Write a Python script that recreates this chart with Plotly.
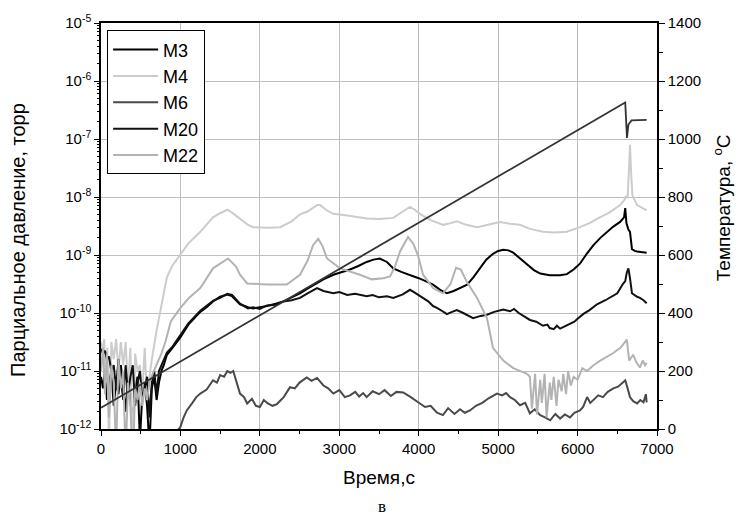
import plotly.graph_objects as go

# ---------------- data ----------------
# time, s ; pressures stored as log10(torr)
t_m3 = [0, 25, 50, 75, 100, 130, 160, 190, 220, 250, 280, 310, 340, 370, 400, 430, 460, 490, 520,
        550, 580, 610, 640, 670, 700, 730, 760, 790, 830, 900, 995, 1100, 1250, 1330, 1410, 1500,
        1590, 1650, 1750, 1850, 1915, 2000, 2090, 2200, 2295, 2400, 2505, 2600, 2700, 2800, 2925,
        3030, 3135, 3240, 3345, 3430, 3510, 3600, 3680, 3780, 3890, 4000, 4100, 4180, 4270, 4355,
        4440, 4520, 4610, 4690, 4770, 4850, 4935, 5000, 5065, 5130, 5190, 5280, 5365, 5450, 5530,
        5650, 5780, 5865, 5950, 6030, 6120, 6200, 6290, 6370, 6450, 6535, 6585, 6600, 6615, 6640,
        6660, 6685, 6720, 6750, 6800, 6870]
lg_m3 = [-11.1, -11.3, -10.95, -11.5, -11.2, -11.0, -11.6, -11.2, -11.4, -10.9, -11.3, -11.7, -11.1,
         -11.5, -11.9, -11.3, -11.1, -12.2, -11.4, -11.2, -11.6, -12.3, -11.3, -11.1, -11.5, -11.2,
         -11.0, -10.9, -10.72, -10.6, -10.43, -10.2, -9.98, -9.9, -9.8, -9.72, -9.68, -9.71, -9.85,
         -9.9, -9.92, -9.9, -9.88, -9.84, -9.8, -9.73, -9.66, -9.58, -9.5, -9.42, -9.34, -9.3, -9.25,
         -9.19, -9.12, -9.08, -9.06, -9.12, -9.23, -9.29, -9.34, -9.4, -9.46, -9.51, -9.6, -9.66,
         -9.62, -9.57, -9.51, -9.38, -9.23, -9.08, -8.98, -8.93, -8.91, -8.92, -8.96, -9.06, -9.17,
         -9.26, -9.32, -9.35, -9.35, -9.33, -9.25, -9.15, -8.97, -8.83, -8.7, -8.6, -8.51, -8.43,
         -8.35, -8.19, -8.45, -8.56, -8.6, -8.9, -8.93, -8.94, -8.95, -8.96]

t_m4 = [0, 20, 40, 60, 80, 100, 130, 160, 190, 220, 250, 280, 310, 340, 370, 400, 430, 460, 490,
        520, 550, 580, 610, 640, 700, 740, 780, 830, 900, 1000, 1100, 1250, 1410, 1500, 1590, 1650,
        1750, 1850, 1915, 2100, 2255, 2400, 2505, 2600, 2720, 2760, 2830, 2925, 3100, 3345, 3500,
        3680, 3800, 3890, 3950, 4015, 4150, 4310, 4400, 4480, 4600, 4735, 4900, 5025, 5150, 5275,
        5400, 5565, 5700, 5865, 6030, 6150, 6280, 6400, 6535, 6590, 6610, 6630, 6645, 6660, 6675,
        6690, 6750, 6820, 6870]
lg_m4 = [-10.5, -10.7, -10.45, -11.2, -10.6, -12.3, -10.5, -10.8, -10.45, -11.0, -10.5, -10.9,
         -10.5, -11.3, -10.6, -12.5, -10.7, -11.0, -10.9, -11.4, -10.6, -11.5, -11.1, -10.8, -10.3,
         -10.0, -9.7, -9.38, -9.18, -8.98, -8.8, -8.6, -8.35, -8.28, -8.22, -8.27, -8.38, -8.48,
         -8.52, -8.53, -8.52, -8.42, -8.3, -8.25, -8.14, -8.14, -8.22, -8.29, -8.32, -8.37, -8.38,
         -8.36, -8.25, -8.17, -8.22, -8.29, -8.4, -8.48, -8.45, -8.42, -8.48, -8.52, -8.47, -8.43,
         -8.46, -8.48, -8.55, -8.6, -8.61, -8.6, -8.52, -8.45, -8.35, -8.27, -8.14, -8.05, -7.98,
         -8.02, -7.6, -7.1, -7.6, -7.97, -8.14, -8.2, -8.23]

t_m6 = [0, 60, 120, 180, 240, 300, 360, 420, 480, 540, 600, 660, 720, 800, 900, 995, 1040, 1080,
        1150, 1200, 1250, 1330, 1410, 1460, 1500, 1550, 1590, 1630, 1665, 1700, 1750, 1800, 1840,
        1900, 1950, 2000, 2050, 2100, 2160, 2215, 2300, 2380, 2440, 2500, 2590, 2650, 2720, 2800,
        2860, 2925, 3000, 3070, 3135, 3200, 3250, 3300, 3345, 3420, 3500, 3570, 3650, 3720, 3805,
        3900, 3960, 4015, 4080, 4150, 4230, 4305, 4370, 4450, 4520, 4580, 4645, 4720, 4800, 4880,
        4985, 5050, 5100, 5150, 5210, 5275, 5340, 5400, 5460, 5530, 5590, 5655, 5720, 5780, 5840,
        5905, 5960, 6030, 6070, 6120, 6160, 6200, 6260, 6320, 6380, 6450, 6510, 6570, 6600, 6630,
        6660, 6700, 6750, 6790, 6830, 6860, 6870]
lg_m6 = [-12.6, -12.4, -12.7, -12.3, -12.5, -12.2, -12.6, -12.4, -12.3, -12.6, -12.2, -12.5, -12.1,
         -12.3, -12.1, -11.98, -11.8, -11.68, -11.55, -11.45, -11.39, -11.32, -11.16, -11.2, -11.07,
         -11.1, -11.0, -11.03, -11.0, -11.15, -11.39, -11.45, -11.56, -11.48, -11.6, -11.62, -11.5,
         -11.56, -11.6, -11.57, -11.45, -11.28, -11.3, -11.2, -11.11, -11.17, -11.12, -11.25, -11.3,
         -11.39, -11.33, -11.45, -11.42, -11.36, -11.44, -11.38, -11.45, -11.35, -11.4, -11.33,
         -11.43, -11.36, -11.37, -11.45, -11.5, -11.56, -11.62, -11.6, -11.72, -11.76, -11.64,
         -11.74, -11.66, -11.72, -11.68, -11.6, -11.55, -11.47, -11.39, -11.42, -11.38, -11.45,
         -11.5, -11.59, -11.55, -11.73, -11.66, -11.76, -11.8, -11.85, -11.74, -11.82, -11.75,
         -11.8, -11.72, -11.68, -11.62, -11.45, -11.55, -11.5, -11.42, -11.45, -11.36, -11.3, -11.27,
         -11.2, -11.16, -11.3, -11.45, -11.52, -11.56, -11.5, -11.54, -11.4, -11.54]

t_m20 = [0, 25, 50, 75, 100, 130, 160, 190, 220, 250, 280, 310, 340, 370, 400, 430, 460, 490, 520,
         550, 580, 610, 640, 670, 700, 730, 760, 790, 830, 900, 995, 1100, 1250, 1330, 1410, 1500,
         1590, 1650, 1750, 1850, 1915, 2000, 2090, 2200, 2295, 2400, 2505, 2600, 2720, 2800, 2925,
         3000, 3100, 3200, 3345, 3420, 3500, 3600, 3680, 3800, 3890, 3950, 4055, 4120, 4180, 4230,
         4300, 4355, 4420, 4480, 4560, 4620, 4685, 4780, 4860, 4950, 5065, 5150, 5200, 5260, 5315,
         5400, 5480, 5565, 5620, 5650, 5700, 5740, 5780, 5850, 5905, 5960, 6000, 6070, 6150, 6245,
         6350, 6430, 6500, 6570, 6600, 6620, 6640, 6660, 6685, 6750, 6785, 6830, 6870]
lg_m20 = [-10.62, -10.7, -10.65, -10.8, -10.75, -11.0, -10.9, -11.3, -10.8, -11.2, -11.5, -10.9,
          -11.4, -11.1, -10.9, -11.6, -11.2, -11.0, -11.5, -11.3, -11.1, -11.8, -11.2, -11.0, -11.4,
          -11.0, -10.9, -10.8, -10.68, -10.58, -10.4, -10.18, -9.96, -9.88, -9.79, -9.74, -9.67,
          -9.69, -9.84, -9.92, -9.9, -9.93, -9.87, -9.86, -9.8, -9.78, -9.74, -9.66, -9.57, -9.62,
          -9.66, -9.64, -9.69, -9.67, -9.71, -9.69, -9.73, -9.71, -9.74, -9.68, -9.6, -9.65, -9.74,
          -9.8, -9.88, -9.91, -9.97, -10.02, -9.98, -9.95, -10.0, -10.04, -10.09, -10.05, -10.03,
          -9.98, -9.94, -9.97, -9.93, -10.0, -10.05, -10.12, -10.15, -10.22, -10.2, -10.26, -10.28,
          -10.22, -10.27, -10.22, -10.19, -10.15, -10.1, -10.02, -9.95, -9.85, -9.78, -9.72, -9.66,
          -9.5, -9.45, -9.3, -9.23, -9.4, -9.66, -9.72, -9.74, -9.78, -9.83]

t_m22 = [0, 25, 50, 75, 100, 130, 160, 190, 220, 250, 280, 310, 340, 370, 400, 430, 460, 490, 520,
         550, 580, 610, 650, 700, 760, 810, 880, 995, 1100, 1250, 1410, 1600, 1700, 1750, 1840, 2090,
         2340, 2505, 2600, 2670, 2735, 2790, 2845, 3010, 3260, 3410, 3550, 3640, 3700, 3765, 3865,
         3930, 3990, 4055, 4180, 4305, 4400, 4470, 4530, 4605, 4735, 4860, 4935, 5065, 5190, 5365,
         5400, 5425, 5465, 5490, 5530, 5550, 5585, 5610, 5650, 5670, 5700, 5735, 5760, 5800, 5820,
         5855, 5880, 5915, 5950, 6000, 6060, 6120, 6200, 6285, 6370, 6450, 6540, 6600, 6620, 6650,
         6700, 6740, 6785, 6820, 6850, 6870]
lg_m22 = [-11.0, -10.6, -11.4, -10.7, -11.8, -10.9, -11.2, -12.4, -10.8, -11.3, -11.0, -12.5,
          -11.2, -11.6, -12.6, -11.3, -11.5, -11.2, -11.6, -11.3, -11.5, -11.2, -11.05, -10.9,
          -10.7, -10.5, -10.14, -9.92, -9.75, -9.57, -9.23, -9.06, -9.2, -9.34, -9.49, -9.51,
          -9.51, -9.34, -9.1, -8.83, -8.72, -8.85, -9.06, -9.23, -9.34, -9.42, -9.4, -9.37, -9.2,
          -8.94, -8.69, -8.8, -9.0, -9.34, -9.57, -9.66, -9.5, -9.22, -9.25, -9.46, -9.74, -10.09,
          -10.6, -10.82, -10.95, -11.05, -11.1, -11.65, -11.05, -11.75, -11.15, -11.55, -11.05,
          -11.8, -11.2, -11.5, -11.1, -11.6, -11.15, -11.35, -11.05, -11.4, -11.0, -11.25, -11.1,
          -11.15, -10.95, -11.0, -10.9, -10.82, -10.75, -10.69, -10.6, -10.5, -10.46, -10.82,
          -10.72, -10.85, -10.94, -10.82, -10.9, -10.86]

t_temp = [0, 6600, 6622, 6640, 6680, 6870]
temp_c = [73, 1126, 1004, 1050, 1064, 1066]

series = [
    ("M3", t_m3, lg_m3, "#000000"),
    ("M4", t_m4, lg_m4, "#cccccc"),
    ("M6", t_m6, lg_m6, "#4a4a4a"),
    ("M20", t_m20, lg_m20, "#111111"),
    ("M22", t_m22, lg_m22, "#b3b3b3"),
]

x_ticks = [0, 1000, 2000, 3000, 4000, 5000, 6000, 7000]
y_decades = [-12, -11, -10, -9, -8, -7, -6, -5]
y_ticktext = ["10<sup>-12</sup>", "10<sup>-11</sup>", "10<sup>-10</sup>", "10<sup>-9</sup>",
              "10<sup>-8</sup>", "10<sup>-7</sup>", "10<sup>-6</sup>", "10<sup>-5</sup>"]
y_tickvals = [10.0 ** e for e in y_decades]
y_minorvals = [k * 10.0 ** e for e in y_decades[:-1] for k in range(2, 10)]

# ---------------- figure ----------------
fig = go.Figure()
for name, t, lg, col in series:
    fig.add_trace(go.Scatter(x=t, y=[10 ** v for v in lg], mode="lines", name=name,
                             line=dict(color=col, width=2), yaxis="y"))
fig.add_trace(go.Scatter(x=t_temp, y=temp_c, mode="lines", showlegend=False,
                         line=dict(color="#333333", width=1.8), yaxis="y2"))
# invisible helper trace so the minor-tick log axis is rendered
fig.add_trace(go.Scatter(x=[None], y=[None], yaxis="y3", showlegend=False, hoverinfo="skip"))

FONT = "Arial, Liberation Sans, sans-serif"
fig.update_layout(
    width=739, height=521,
    margin=dict(l=101, r=82, t=19, b=92),
    paper_bgcolor="white", plot_bgcolor="white",
    font=dict(family=FONT, size=15, color="black"),
    showlegend=True,
    legend=dict(x=0.011, y=0.982, xanchor="left", yanchor="top",
                bordercolor="black", borderwidth=1, bgcolor="white",
                font=dict(size=18), tracegroupgap=0, itemwidth=45),
    xaxis=dict(range=[0, 7000], tickvals=x_ticks, ticks="outside", ticklen=5,
               tickwidth=1.2, tickcolor="black",
               showgrid=True, gridcolor="#bdbdbd", gridwidth=1,
               showline=True, linecolor="black", linewidth=1.5, mirror=True,
               zeroline=False, tickfont=dict(size=15),
               minor=dict(dtick=500, ticks="outside", ticklen=3, tickcolor="black",
                          showgrid=False)),
    yaxis=dict(type="log", range=[-12, -5], tickvals=y_tickvals, ticktext=y_ticktext,
               ticks="outside", ticklen=5, tickwidth=1.2, tickcolor="black",
               showgrid=True, gridcolor="#bdbdbd", gridwidth=1,
               showline=True, linecolor="black", linewidth=1.5,
               zeroline=False, tickfont=dict(size=15)),
    yaxis3=dict(type="log", range=[-12, -5], overlaying="y", side="left",
                tickmode="array", tickvals=y_minorvals, showticklabels=False,
                ticks="outside", ticklen=3, tickwidth=1, tickcolor="black",
                showgrid=False, showline=False, zeroline=False),
    yaxis2=dict(range=[0, 1400], dtick=200, overlaying="y", side="right",
                ticks="outside", ticklen=6, tickwidth=1.2, tickcolor="black",
                showgrid=False, showline=True, linecolor="black", linewidth=1.5,
                zeroline=False, tickfont=dict(size=15),
                minor=dict(dtick=100, ticks="outside", ticklen=4, tickcolor="black")),
)

fig.add_annotation(text="Парциальное давление, торр", xref="paper", yref="paper",
                   x=-0.149, y=0.466, textangle=-90, showarrow=False,
                   font=dict(size=20), xanchor="center", yanchor="middle")
fig.add_annotation(text="Температура, <sup>o</sup>C", xref="paper", yref="paper",
                   x=1.117, y=0.544, textangle=-90, showarrow=False,
                   font=dict(size=19), xanchor="center", yanchor="middle")
fig.add_annotation(text="Время,с", xref="paper", yref="paper",
                   x=0.5, y=-0.12, showarrow=False, font=dict(size=19),
                   xanchor="center", yanchor="middle")
fig.add_annotation(text="в", xref="paper", yref="paper",
                   x=0.506, y=-0.19, showarrow=False,
                   font=dict(size=17, family="Times New Roman, Liberation Serif, serif"),
                   xanchor="center", yanchor="middle")

fig.write_html("out.html")
